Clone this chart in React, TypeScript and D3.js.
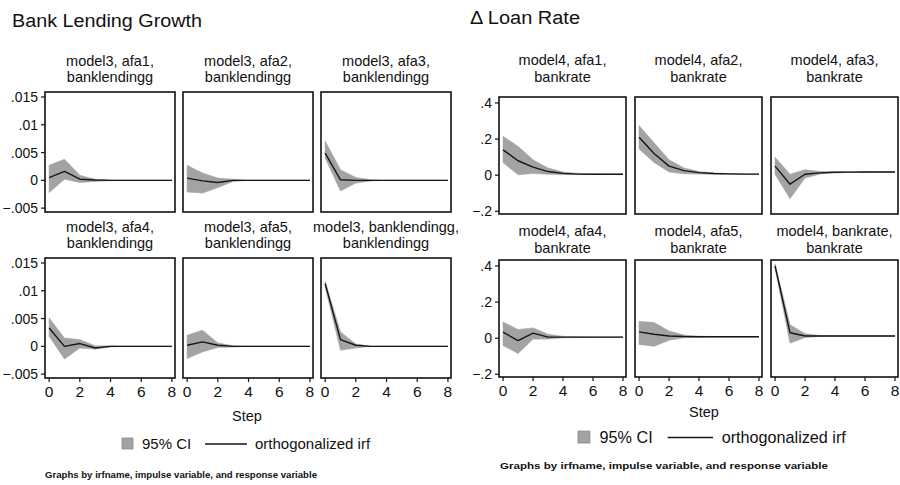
import React from "react";
import * as d3 from "d3";

const FONT = "'Liberation Sans', Arial, Helvetica, sans-serif";

const steps = [0, 1, 2, 3, 4, 5, 6, 7, 8];
const xTicks = [0, 2, 4, 6, 8];

// Bank Lending Growth (model3)
const leftSubtitles = [
  ["model3, afa1,", "banklendingg"],
  ["model3, afa2,", "banklendingg"],
  ["model3, afa3,", "banklendingg"],
  ["model3, afa4,", "banklendingg"],
  ["model3, afa5,", "banklendingg"],
  ["model3, banklendingg,", "banklendingg"],
];
const leftYTicks = [0.015, 0.01, 0.005, 0, -0.005];
const leftYLabels = [".015", ".01", ".005", "0", "\u2212.005"];

const bl1Irf = [0.0005, 0.0016, 0.0002, 0.00005, 0, 0, 0, 0, 0];
const bl1Lo = [-0.0022, 0.0002, -0.0004, -0.0002, -0.00005, 0, 0, 0, 0];
const bl1Hi = [0.0027, 0.0038, 0.0009, 0.0002, 0.00005, 0, 0, 0, 0];

const bl2Irf = [0.0004, -0.0001, -0.0004, 0, 0, 0, 0, 0, 0];
const bl2Lo = [-0.0021, -0.0023, -0.0013, -0.0002, 0, 0, 0, 0, 0];
const bl2Hi = [0.0027, 0.0013, 0.0004, 0.0002, 0, 0, 0, 0, 0];

const bl3Irf = [0.0049, 0.0001, 0, 0, 0, 0, 0, 0, 0];
const bl3Lo = [0.004, -0.0019, -0.0005, -0.0001, 0, 0, 0, 0, 0];
const bl3Hi = [0.0071, 0.0019, 0.0005, 0.0001, 0, 0, 0, 0, 0];

const bl4Irf = [0.0033, 0.0, 0.0005, -0.0003, 0, 0, 0, 0, 0];
const bl4Lo = [0.0018, -0.0023, -0.0003, -0.0005, -0.0001, 0, 0, 0, 0];
const bl4Hi = [0.0051, 0.0015, 0.0012, 0.0001, 0.0001, 0, 0, 0, 0];

const bl5Irf = [0.0002, 0.0008, 0.0002, 0, 0, 0, 0, 0, 0];
const bl5Lo = [-0.0022, -0.001, -0.0002, -0.0001, 0, 0, 0, 0, 0];
const bl5Hi = [0.002, 0.0029, 0.0006, 0.0001, 0, 0, 0, 0, 0];

const bl6Irf = [0.0113, 0.0012, 0.0002, 0, 0, 0, 0, 0, 0];
const bl6Lo = [0.0107, -0.0007, -0.0003, 0, 0, 0, 0, 0, 0];
const bl6Hi = [0.0117, 0.0026, 0.0004, 0, 0, 0, 0, 0, 0];

// Δ Loan Rate (model4)
const rightSubtitles = [
  ["model4, afa1,", "bankrate"],
  ["model4, afa2,", "bankrate"],
  ["model4, afa3,", "bankrate"],
  ["model4, afa4,", "bankrate"],
  ["model4, afa5,", "bankrate"],
  ["model4, bankrate,", "bankrate"],
];
const rightYTicks = [0.4, 0.2, 0, -0.2];
const rightYLabels = [".4", ".2", "0", "\u2212.2"];

const br1Irf = [0.14, 0.08, 0.045, 0.02, 0.01, 0.006, 0.005, 0.005, 0.005];
const br1Lo = [0.07, 0.002, 0.01, 0.005, 0.003, 0.003, 0.004, 0.004, 0.004];
const br1Hi = [0.215, 0.16, 0.085, 0.04, 0.018, 0.01, 0.007, 0.006, 0.006];

const br2Irf = [0.21, 0.12, 0.05, 0.025, 0.014, 0.009, 0.007, 0.006, 0.006];
const br2Lo = [0.145, 0.07, 0.018, 0.008, 0.006, 0.005, 0.005, 0.005, 0.005];
const br2Hi = [0.275, 0.18, 0.085, 0.04, 0.02, 0.012, 0.008, 0.007, 0.007];

const br3Irf = [0.05, -0.05, 0.005, 0.013, 0.016, 0.017, 0.018, 0.018, 0.018];
const br3Lo = [0.005, -0.13, -0.015, 0.006, 0.013, 0.015, 0.016, 0.017, 0.017];
const br3Hi = [0.1, 0.005, 0.03, 0.02, 0.019, 0.019, 0.019, 0.019, 0.019];

const br4Irf = [0.033, -0.013, 0.028, 0.006, 0.006, 0.006, 0.006, 0.006, 0.006];
const br4Lo = [-0.04, -0.085, -0.005, -0.005, 0.002, 0.004, 0.005, 0.005, 0.005];
const br4Hi = [0.09, 0.048, 0.057, 0.022, 0.01, 0.008, 0.007, 0.007, 0.007];

const br5Irf = [0.035, 0.022, 0.012, 0.009, 0.008, 0.008, 0.008, 0.008, 0.008];
const br5Lo = [-0.035, -0.045, -0.012, 0.002, 0.005, 0.007, 0.007, 0.007, 0.007];
const br5Hi = [0.093, 0.087, 0.04, 0.017, 0.011, 0.009, 0.009, 0.009, 0.009];

const br6Irf = [0.4, 0.03, 0.012, 0.012, 0.012, 0.012, 0.012, 0.012, 0.012];
const br6Lo = [0.388, -0.028, 0.004, 0.01, 0.011, 0.011, 0.011, 0.011, 0.011];
const br6Hi = [0.412, 0.075, 0.025, 0.015, 0.013, 0.013, 0.013, 0.013, 0.013];

const leftSeries = [
  [bl1Irf, bl1Lo, bl1Hi],
  [bl2Irf, bl2Lo, bl2Hi],
  [bl3Irf, bl3Lo, bl3Hi],
  [bl4Irf, bl4Lo, bl4Hi],
  [bl5Irf, bl5Lo, bl5Hi],
  [bl6Irf, bl6Lo, bl6Hi],
];
const rightSeries = [
  [br1Irf, br1Lo, br1Hi],
  [br2Irf, br2Lo, br2Hi],
  [br3Irf, br3Lo, br3Hi],
  [br4Irf, br4Lo, br4Hi],
  [br5Irf, br5Lo, br5Hi],
  [br6Irf, br6Lo, br6Hi],
];

const BAND = "#a3a3a3";
const INK = "#161616";

type Cfg = {
  colX: number[];
  w: number;
  rowY: number[];
  h: number;
  yDomain: [number, number];
  yTicks: number[];
  yLabels: string[];
  subBase: number[][];
  subtitles: string[][];
  series: number[][][];
  title: string;
  titleX: number;
  titleY: number;
  titleLen: number;
  stepX: number;
  stepY: number;
  legX: number;
  legY: number;
  legScale: number;
  footX: number;
  footY: number;
  footLen: number;
};

function Grid({ c }: { c: Cfg }) {
  const items: React.ReactNode[] = [];
  c.series.forEach((s, i) => {
    const col = i % 3;
    const row = Math.floor(i / 3);
    const x0 = c.colX[col];
    const y0 = c.rowY[row];
    const xs = d3.scaleLinear().domain([-0.27, 8.2]).range([x0, x0 + c.w]);
    const ys = d3.scaleLinear().domain(c.yDomain).range([y0 + c.h, y0]);
    const [irf, lo, hi] = s;
    const area = d3
      .area<number>()
      .x((d) => xs(d))
      .y0((d, k) => ys(lo[k]))
      .y1((d, k) => ys(hi[k]));
    const line = d3
      .line<number>()
      .x((d) => xs(d))
      .y((d, k) => ys(irf[k]));
    items.push(
      <g key={"p" + i}>
        <rect x={x0} y={y0} width={c.w} height={c.h} fill="#fff" />
        <path d={area(steps) || ""} fill={BAND} stroke={BAND} strokeWidth={0.6} />
        <path d={line(steps) || ""} fill="none" stroke={INK} strokeWidth={1.4} strokeLinejoin="round" />
        <rect x={x0} y={y0} width={c.w} height={c.h} fill="none" stroke="#111" strokeWidth={1.6} />
        {c.subtitles[i].map((t, k) => (
          <text
            key={k}
            x={x0 + c.w / 2}
            y={c.subBase[row][k]}
            textAnchor="middle"
            fontSize={14.5}
            fontFamily={FONT}
            fill="#111"
          >
            {t}
          </text>
        ))}
        {col === 0 &&
          c.yTicks.map((t, k) => (
            <g key={"y" + k}>
              <line x1={x0 - 4} x2={x0} y1={ys(t)} y2={ys(t)} stroke="#111" strokeWidth={1.2} />
              <text
                x={x0 - 7}
                y={ys(t) + 5}
                textAnchor="end"
                fontSize={14}
                fontFamily={FONT}
                fill="#111"
              >
                {c.yLabels[k]}
              </text>
            </g>
          ))}
        {row === 1 &&
          xTicks.map((t) => (
            <g key={"x" + t}>
              <line x1={xs(t)} x2={xs(t)} y1={y0 + c.h} y2={y0 + c.h + 4} stroke="#111" strokeWidth={1.2} />
              <text
                x={xs(t)}
                y={y0 + c.h + 19}
                textAnchor="middle"
                fontSize={15.5}
                fontFamily={FONT}
                fill="#111"
              >
                {t}
              </text>
            </g>
          ))}
      </g>
    );
  });
  const L = c.legScale;
  return (
    <g>
      <text
        x={c.titleX}
        y={c.titleY}
        fontSize={18}
        fontFamily={FONT}
        fill="#111"
        textLength={c.titleLen}
        lengthAdjust="spacingAndGlyphs"
      >
        {c.title}
      </text>
      {items}
      <text x={c.stepX} y={c.stepY} textAnchor="middle" fontSize={14.5} fontFamily={FONT} fill="#111">
        Step
      </text>
      <g transform={`translate(${c.legX},${c.legY}) scale(${L})`}>
        <rect x={0} y={-11} width={11} height={11} fill={BAND} stroke="#8a8a8a" strokeWidth={0.8} />
        <text x={20} y={0} fontSize={15} fontFamily={FONT} fill="#111">
          95% CI
        </text>
        <line x1={83} x2={125} y1={-5} y2={-5} stroke={INK} strokeWidth={1.4} />
        <text x={133} y={0} fontSize={15} fontFamily={FONT} fill="#111">
          orthogonalized irf
        </text>
      </g>
      <text
        x={c.footX}
        y={c.footY}
        fontSize={9.5}
        fontWeight={600}
        fontFamily={FONT}
        fill="#111"
        textLength={c.footLen}
        lengthAdjust="spacingAndGlyphs"
      >
        Graphs by irfname, impulse variable, and response variable
      </text>
    </g>
  );
}

const leftCfg: Cfg = {
  colX: [45, 183, 321],
  w: 130,
  rowY: [92, 258],
  h: 120,
  yDomain: [-0.0057, 0.0159],
  yTicks: leftYTicks,
  yLabels: leftYLabels,
  subBase: [
    [66, 82],
    [232, 248],
  ],
  subtitles: leftSubtitles,
  series: leftSeries,
  title: "Bank Lending Growth",
  titleX: 12,
  titleY: 27,
  titleLen: 190,
  stepX: 247,
  stepY: 421,
  legX: 122,
  legY: 449,
  legScale: 1.0,
  footX: 45,
  footY: 478,
  footLen: 272,
};

const rightCfg: Cfg = {
  colX: [499, 635, 771],
  w: 127,
  rowY: [97, 260],
  h: 117,
  yDomain: [-0.215, 0.433],
  yTicks: rightYTicks,
  yLabels: rightYLabels,
  subBase: [
    [65, 82],
    [236, 253],
  ],
  subtitles: rightSubtitles,
  series: rightSeries,
  title: "\u0394 Loan Rate",
  titleX: 470,
  titleY: 24,
  titleLen: 110,
  stepX: 704,
  stepY: 417,
  legX: 578,
  legY: 443,
  legScale: 1.08,
  footX: 500,
  footY: 469,
  footLen: 328,
};

export default function App() {
  return (
    <svg
      width={900}
      height={485}
      viewBox="0 0 900 485"
      style={{ position: "absolute", left: 0, top: 0, background: "#fff" }}
    >
      <rect x={0} y={0} width={900} height={485} fill="#fff" />
      <Grid c={leftCfg} />
      <Grid c={rightCfg} />
    </svg>
  );
}
